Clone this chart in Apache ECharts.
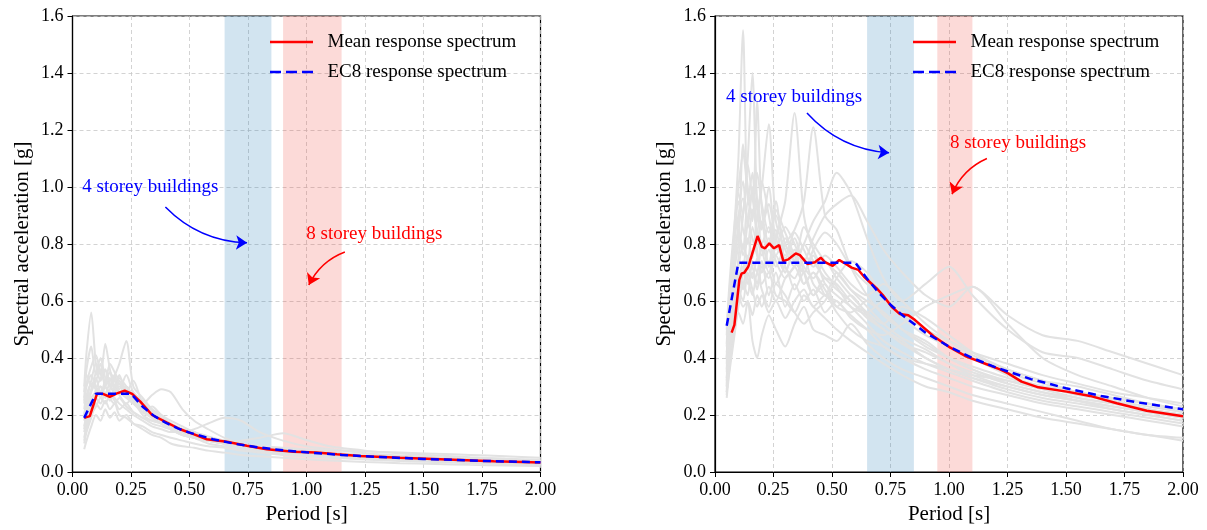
<!DOCTYPE html>
<html>
<head>
<meta charset="utf-8">
<script src="https://cdn.jsdelivr.net/npm/echarts@6/dist/echarts.min.js"></script>
<style>
  html, body { margin: 0; padding: 0; background: #fff; }
  #spectra { width: 1207px; height: 530px; }
</style>
</head>
<body>
<div id="spectra"></div>
<script type="text/javascript">
// periods [s] at which the individual record spectra are sampled
const periodsGray = [0.05, 0.06, 0.08, 0.1, 0.12, 0.14, 0.16, 0.18, 0.2, 0.23, 0.26, 0.3, 0.34, 0.38, 0.42, 0.47, 0.52, 0.58, 0.65, 0.72, 0.8, 0.9, 1.0, 1.1, 1.25, 1.4, 1.55, 1.7, 1.85, 2.0]

// left panel: record spectra [g]
const grayLeft = [
  [0.30, 0.42, 0.56, 0.38, 0.32, 0.36, 0.30, 0.34, 0.28, 0.30, 0.26, 0.22, 0.20, 0.18, 0.16, 0.14, 0.13, 0.11, 0.10, 0.09, 0.08, 0.07, 0.065, 0.06, 0.052, 0.046, 0.042, 0.038, 0.035, 0.032],
  [0.20, 0.25, 0.32, 0.38, 0.34, 0.45, 0.36, 0.30, 0.34, 0.28, 0.32, 0.24, 0.22, 0.19, 0.17, 0.15, 0.14, 0.12, 0.11, 0.095, 0.085, 0.075, 0.068, 0.062, 0.054, 0.048, 0.043, 0.039, 0.036, 0.033],
  [0.15, 0.20, 0.26, 0.28, 0.30, 0.27, 0.32, 0.34, 0.38, 0.46, 0.30, 0.26, 0.22, 0.20, 0.17, 0.15, 0.13, 0.12, 0.10, 0.09, 0.08, 0.072, 0.066, 0.06, 0.052, 0.046, 0.042, 0.038, 0.034, 0.031],
  [0.12, 0.16, 0.22, 0.26, 0.24, 0.28, 0.25, 0.30, 0.27, 0.24, 0.26, 0.24, 0.27, 0.29, 0.28, 0.22, 0.18, 0.15, 0.12, 0.10, 0.09, 0.08, 0.072, 0.065, 0.056, 0.05, 0.045, 0.04, 0.037, 0.034],
  [0.18, 0.22, 0.28, 0.32, 0.36, 0.30, 0.28, 0.26, 0.24, 0.22, 0.20, 0.18, 0.16, 0.15, 0.14, 0.14, 0.15, 0.17, 0.19, 0.18, 0.14, 0.11, 0.09, 0.08, 0.066, 0.058, 0.052, 0.046, 0.042, 0.038],
  [0.25, 0.30, 0.34, 0.30, 0.28, 0.32, 0.35, 0.30, 0.28, 0.26, 0.24, 0.22, 0.19, 0.17, 0.15, 0.14, 0.12, 0.11, 0.10, 0.11, 0.12, 0.136, 0.112, 0.09, 0.075, 0.065, 0.058, 0.052, 0.047, 0.043],
  [0.08, 0.11, 0.16, 0.20, 0.18, 0.22, 0.19, 0.21, 0.18, 0.20, 0.17, 0.15, 0.13, 0.12, 0.10, 0.09, 0.085, 0.075, 0.068, 0.06, 0.055, 0.05, 0.045, 0.04, 0.035, 0.031, 0.028, 0.025, 0.023, 0.021],
  [0.28, 0.34, 0.30, 0.35, 0.40, 0.33, 0.30, 0.28, 0.30, 0.27, 0.25, 0.20, 0.18, 0.17, 0.15, 0.13, 0.12, 0.11, 0.10, 0.09, 0.08, 0.07, 0.063, 0.058, 0.05, 0.045, 0.04, 0.037, 0.034, 0.031],
  [0.16, 0.20, 0.24, 0.27, 0.30, 0.26, 0.29, 0.33, 0.31, 0.28, 0.25, 0.21, 0.23, 0.20, 0.18, 0.16, 0.14, 0.12, 0.11, 0.10, 0.09, 0.08, 0.074, 0.068, 0.06, 0.054, 0.049, 0.045, 0.041, 0.038],
  [0.22, 0.27, 0.31, 0.29, 0.26, 0.30, 0.26, 0.24, 0.26, 0.23, 0.21, 0.19, 0.17, 0.16, 0.15, 0.13, 0.12, 0.11, 0.10, 0.095, 0.09, 0.085, 0.08, 0.078, 0.072, 0.068, 0.064, 0.06, 0.055, 0.05],
  [0.10, 0.14, 0.19, 0.24, 0.22, 0.25, 0.22, 0.24, 0.20, 0.19, 0.17, 0.16, 0.14, 0.13, 0.12, 0.11, 0.10, 0.09, 0.085, 0.075, 0.068, 0.06, 0.054, 0.05, 0.044, 0.039, 0.035, 0.031, 0.028, 0.025],
  [0.26, 0.36, 0.44, 0.34, 0.38, 0.30, 0.33, 0.29, 0.31, 0.27, 0.24, 0.21, 0.19, 0.17, 0.15, 0.14, 0.12, 0.11, 0.10, 0.09, 0.08, 0.072, 0.065, 0.06, 0.053, 0.047, 0.043, 0.039, 0.035, 0.032],
  [0.14, 0.18, 0.23, 0.29, 0.33, 0.36, 0.31, 0.28, 0.33, 0.30, 0.27, 0.23, 0.20, 0.18, 0.16, 0.15, 0.14, 0.125, 0.11, 0.10, 0.09, 0.08, 0.072, 0.066, 0.058, 0.052, 0.047, 0.043, 0.04, 0.037],
  [0.20, 0.24, 0.29, 0.33, 0.28, 0.31, 0.35, 0.32, 0.29, 0.34, 0.28, 0.25, 0.21, 0.18, 0.16, 0.14, 0.125, 0.11, 0.10, 0.09, 0.082, 0.074, 0.067, 0.061, 0.054, 0.048, 0.044, 0.04, 0.036, 0.033],
  [0.11, 0.15, 0.20, 0.23, 0.26, 0.24, 0.27, 0.25, 0.22, 0.24, 0.21, 0.19, 0.18, 0.17, 0.15, 0.13, 0.12, 0.10, 0.09, 0.08, 0.072, 0.064, 0.058, 0.053, 0.046, 0.041, 0.037, 0.034, 0.031, 0.028],
  [0.24, 0.31, 0.37, 0.41, 0.35, 0.32, 0.38, 0.35, 0.32, 0.29, 0.27, 0.23, 0.21, 0.19, 0.17, 0.15, 0.13, 0.12, 0.11, 0.10, 0.088, 0.078, 0.07, 0.064, 0.056, 0.05, 0.045, 0.041, 0.038, 0.035]
]

// right panel: record spectra [g]
const grayRight = [
  [0.36, 0.55, 0.82, 1.10, 1.55, 0.95, 1.05, 0.80, 0.88, 0.72, 0.85, 0.70, 0.78, 0.66, 0.70, 0.62, 0.60, 0.55, 0.50, 0.44, 0.40, 0.36, 0.33, 0.30, 0.27, 0.24, 0.22, 0.20, 0.18, 0.16],
  [0.30, 0.42, 0.60, 0.75, 0.90, 1.10, 1.40, 0.95, 0.85, 1.00, 0.80, 0.75, 0.82, 0.70, 0.62, 0.66, 0.58, 0.62, 0.55, 0.50, 0.46, 0.40, 0.36, 0.33, 0.30, 0.27, 0.25, 0.23, 0.21, 0.19],
  [0.40, 0.58, 0.72, 0.85, 0.78, 0.95, 0.90, 1.30, 0.92, 0.80, 0.95, 0.72, 0.68, 0.75, 0.66, 0.62, 0.70, 0.64, 0.58, 0.52, 0.47, 0.43, 0.38, 0.35, 0.31, 0.28, 0.26, 0.24, 0.22, 0.20],
  [0.28, 0.35, 0.50, 0.62, 0.70, 0.82, 0.75, 0.90, 1.00, 1.22, 0.88, 0.78, 0.72, 0.80, 0.74, 0.68, 0.64, 0.60, 0.54, 0.50, 0.45, 0.40, 0.36, 0.33, 0.29, 0.26, 0.24, 0.22, 0.20, 0.18],
  [0.45, 0.60, 0.78, 0.95, 0.85, 0.80, 0.92, 0.85, 0.78, 0.70, 0.82, 0.95, 1.26, 0.90, 0.78, 0.70, 0.65, 0.58, 0.55, 0.50, 0.45, 0.42, 0.38, 0.34, 0.30, 0.27, 0.25, 0.23, 0.21, 0.19],
  [0.32, 0.48, 0.62, 0.70, 0.66, 0.72, 0.68, 0.75, 0.70, 0.78, 0.72, 0.80, 0.85, 0.95, 1.21, 0.90, 0.85, 0.72, 0.62, 0.55, 0.50, 0.46, 0.40, 0.36, 0.32, 0.29, 0.26, 0.24, 0.22, 0.20],
  [0.27, 0.40, 0.55, 0.62, 0.58, 0.60, 0.55, 0.62, 0.58, 0.65, 0.60, 0.68, 0.72, 0.80, 0.88, 0.95, 1.05, 0.98, 0.82, 0.68, 0.60, 0.66, 0.72, 0.62, 0.50, 0.42, 0.40, 0.36, 0.32, 0.29],
  [0.38, 0.52, 0.60, 0.68, 0.72, 0.66, 0.70, 0.64, 0.72, 0.68, 0.76, 0.70, 0.78, 0.74, 0.82, 0.90, 0.94, 0.97, 0.88, 0.78, 0.70, 0.62, 0.58, 0.65, 0.55, 0.48, 0.46, 0.42, 0.38, 0.34],
  [0.29, 0.36, 0.48, 0.56, 0.52, 0.60, 0.46, 0.40, 0.48, 0.55, 0.50, 0.44, 0.52, 0.58, 0.50, 0.48, 0.46, 0.52, 0.45, 0.40, 0.36, 0.33, 0.30, 0.27, 0.24, 0.21, 0.18, 0.15, 0.13, 0.11],
  [0.50, 0.62, 0.80, 0.90, 0.96, 0.88, 0.82, 0.76, 0.70, 0.74, 0.66, 0.72, 0.64, 0.70, 0.62, 0.68, 0.66, 0.60, 0.56, 0.60, 0.54, 0.48, 0.44, 0.40, 0.34, 0.30, 0.28, 0.25, 0.22, 0.20],
  [0.33, 0.44, 0.58, 0.70, 0.64, 0.76, 0.72, 0.66, 0.74, 0.62, 0.70, 0.58, 0.66, 0.60, 0.64, 0.56, 0.60, 0.54, 0.50, 0.48, 0.52, 0.58, 0.62, 0.65, 0.52, 0.40, 0.34, 0.30, 0.26, 0.23],
  [0.42, 0.50, 0.64, 0.72, 0.80, 0.74, 0.86, 0.78, 0.66, 0.70, 0.62, 0.60, 0.56, 0.62, 0.58, 0.54, 0.50, 0.46, 0.42, 0.38, 0.34, 0.30, 0.28, 0.25, 0.22, 0.19, 0.17, 0.15, 0.13, 0.12],
  [0.31, 0.46, 0.66, 0.88, 1.02, 0.86, 0.98, 0.92, 0.80, 0.86, 0.76, 0.82, 0.74, 0.70, 0.76, 0.66, 0.62, 0.58, 0.52, 0.46, 0.42, 0.38, 0.35, 0.32, 0.28, 0.25, 0.23, 0.21, 0.19, 0.17],
  [0.35, 0.50, 0.70, 0.80, 1.15, 1.00, 0.88, 1.05, 0.94, 0.84, 0.90, 0.80, 0.74, 0.86, 0.80, 0.74, 0.70, 0.64, 0.60, 0.56, 0.50, 0.45, 0.40, 0.37, 0.33, 0.30, 0.27, 0.25, 0.23, 0.21],
  [0.26, 0.34, 0.46, 0.58, 0.66, 0.62, 0.74, 0.70, 0.80, 0.72, 0.92, 0.84, 0.76, 0.70, 0.78, 0.84, 0.80, 0.72, 0.66, 0.62, 0.56, 0.50, 0.46, 0.42, 0.38, 0.34, 0.31, 0.28, 0.26, 0.24],
  [0.44, 0.56, 0.76, 0.98, 0.90, 1.08, 0.96, 0.88, 1.02, 0.90, 0.78, 0.86, 0.80, 0.72, 0.68, 0.74, 0.68, 0.62, 0.56, 0.52, 0.58, 0.54, 0.48, 0.42, 0.36, 0.32, 0.28, 0.26, 0.24, 0.22],
  [0.30, 0.40, 0.52, 0.64, 0.60, 0.70, 0.64, 0.58, 0.62, 0.56, 0.60, 0.54, 0.60, 0.64, 0.58, 0.62, 0.56, 0.50, 0.46, 0.44, 0.40, 0.38, 0.36, 0.34, 0.32, 0.30, 0.28, 0.26, 0.24, 0.22],
  [0.48, 0.64, 0.84, 1.00, 1.12, 0.98, 0.90, 0.96, 0.86, 0.94, 0.82, 0.76, 0.84, 0.78, 0.72, 0.76, 0.72, 0.66, 0.62, 0.66, 0.60, 0.52, 0.46, 0.41, 0.36, 0.32, 0.30, 0.27, 0.24, 0.21],
  [0.28, 0.38, 0.54, 0.66, 0.74, 0.68, 0.62, 0.70, 0.64, 0.58, 0.66, 0.62, 0.56, 0.52, 0.56, 0.60, 0.68, 0.74, 0.70, 0.62, 0.56, 0.50, 0.44, 0.40, 0.35, 0.31, 0.28, 0.25, 0.22, 0.20],
  [0.40, 0.52, 0.70, 0.84, 0.76, 0.88, 1.00, 0.84, 0.76, 0.82, 0.74, 0.68, 0.72, 0.66, 0.70, 0.64, 0.58, 0.56, 0.60, 0.56, 0.50, 0.44, 0.40, 0.36, 0.31, 0.28, 0.25, 0.22, 0.20, 0.18]
]

// mean and EC8 spectra, left panel
const meanLeftT = [0.05, 0.074, 0.105, 0.13, 0.159, 0.19, 0.223, 0.255, 0.29, 0.34, 0.404, 0.46, 0.517, 0.574, 0.66, 0.745, 0.83, 0.944, 1.043, 1.13, 1.228, 1.4, 1.6, 1.8, 2.0]
const meanLeftV = [0.19, 0.196, 0.275, 0.274, 0.264, 0.276, 0.285, 0.274, 0.247, 0.2, 0.173, 0.15, 0.133, 0.115, 0.106, 0.092, 0.08, 0.071, 0.068, 0.062, 0.056, 0.05, 0.044, 0.038, 0.033]
const ec8LeftT = [0.05, 0.1, 0.25, 0.3, 0.35, 0.4, 0.45, 0.5, 0.6, 0.7, 0.8, 0.9, 1.0, 1.15, 1.3, 1.5, 1.75, 2.0]
const ec8LeftV = [0.19, 0.275, 0.275, 0.229, 0.196, 0.172, 0.153, 0.138, 0.115, 0.098, 0.086, 0.076, 0.069, 0.06, 0.053, 0.046, 0.039, 0.034]

// mean and EC8 spectra, right panel
const meanRightT = [0.071, 0.083, 0.104, 0.114, 0.125, 0.142, 0.164, 0.182, 0.2, 0.214, 0.232, 0.252, 0.274, 0.292, 0.313, 0.345, 0.363, 0.395, 0.427, 0.452, 0.47, 0.503, 0.531, 0.551, 0.584, 0.613, 0.637, 0.691, 0.717, 0.755, 0.79, 0.826, 0.855, 0.933, 1.004, 1.075, 1.161, 1.218, 1.253, 1.31, 1.382, 1.503, 1.603, 1.717, 1.845, 2.0]
const meanRightV = [0.489, 0.516, 0.674, 0.697, 0.699, 0.72, 0.779, 0.828, 0.79, 0.785, 0.802, 0.785, 0.796, 0.74, 0.746, 0.767, 0.761, 0.73, 0.736, 0.752, 0.736, 0.723, 0.744, 0.734, 0.717, 0.709, 0.685, 0.644, 0.621, 0.58, 0.554, 0.55, 0.533, 0.477, 0.437, 0.405, 0.378, 0.36, 0.346, 0.317, 0.297, 0.282, 0.267, 0.241, 0.215, 0.196]
const ec8RightT = [0.05, 0.1, 0.6, 0.65, 0.7, 0.75, 0.8, 0.9, 1.0, 1.1, 1.2, 1.35, 1.5, 1.65, 1.8, 2.0]
const ec8RightV = [0.513, 0.734, 0.734, 0.678, 0.629, 0.587, 0.551, 0.489, 0.44, 0.4, 0.367, 0.326, 0.294, 0.267, 0.245, 0.22]

// period ranges of the building groups [s]
const bandsLeft = [[0.65, 0.85], [0.90, 1.15]]
const bandsRight = [[0.65, 0.85], [0.95, 1.10]]

const seriesNames = ['Mean response spectrum', 'EC8 response spectrum']

const FONT = 'Liberation Serif'
const BLUE_BAND = 'rgba(31, 119, 180, 0.2)'
const RED_BAND = 'rgba(240, 70, 60, 0.2)'

// legend icons: a solid stroke and a dashed one
const ICON_SOLID = 'path://M0,0H43V2.5H0Z'
const ICON_DASHED = 'path://M0,0H11V2.5H0Z M16,0H27V2.5H16Z M32,0H43V2.5H32Z'

// annotation placement, in data coordinates
const notesLeft = [
  { text: '4 storey buildings', color: '#0000ff', at: [0.333, 1.0], from: [0.397, 0.93], to: [0.746, 0.804] },
  { text: '8 storey buildings', color: '#ff0000', at: [1.29, 0.835], from: [1.164, 0.772], to: [1.01, 0.656] }
]
const notesRight = [
  { text: '4 storey buildings', color: '#0000ff', at: [0.338, 1.316], from: [0.393, 1.26], to: [0.744, 1.12] },
  { text: '8 storey buildings', color: '#ff0000', at: [1.295, 1.154], from: [1.162, 1.10], to: [1.013, 0.975] }
]

const zip = (xs, ys) => xs.map((x, i) => [x, ys[i]])

function panelSeries (idx, gray, meanT, meanV, ecT, ecV, bands, notes) {
  const out = gray.map(rec => ({
    type: 'line',
    xAxisIndex: idx,
    yAxisIndex: idx,
    data: zip(periodsGray, rec),
    symbol: 'none',
    smooth: 0.25,
    silent: true,
    z: 2,
    lineStyle: { color: '#e2e2e2', width: 2 }
  }))
  out.push({
    type: 'line',
    xAxisIndex: idx,
    yAxisIndex: idx,
    data: [],
    symbol: 'none',
    silent: true,
    z: 3,
    markArea: {
      silent: true,
      data: [
        [{ xAxis: bands[0][0], itemStyle: { color: BLUE_BAND } }, { xAxis: bands[0][1] }],
        [{ xAxis: bands[1][0], itemStyle: { color: RED_BAND } }, { xAxis: bands[1][1] }]
      ]
    }
  })
  out.push({
    name: seriesNames[0],
    type: 'line',
    xAxisIndex: idx,
    yAxisIndex: idx,
    data: zip(meanT, meanV),
    symbol: 'none',
    z: 4,
    lineStyle: { color: '#ff0000', width: 2.5 },
    itemStyle: { color: '#ff0000' }
  })
  out.push({
    name: seriesNames[1],
    type: 'line',
    xAxisIndex: idx,
    yAxisIndex: idx,
    data: zip(ecT, ecV),
    symbol: 'none',
    z: 5,
    lineStyle: { color: '#0000ff', width: 2.5, type: [8, 5] },
    itemStyle: { color: '#0000ff' }
  })
  // text labels
  out.push({
    type: 'line',
    xAxisIndex: idx,
    yAxisIndex: idx,
    data: [],
    symbol: 'none',
    z: 6,
    markPoint: {
      silent: true,
      symbol: 'circle',
      symbolSize: 1,
      itemStyle: { color: 'rgba(0,0,0,0)' },
      data: notes.map(n => ({
        coord: n.at,
        name: n.text,
        label: { show: true, position: 'inside', formatter: '{b}', color: n.color, fontFamily: FONT, fontSize: 19 }
      }))
    }
  })
  // curved arrows
  out.push({
    type: 'lines',
    coordinateSystem: 'cartesian2d',
    xAxisIndex: idx,
    yAxisIndex: idx,
    silent: true,
    z: 6,
    symbol: ['none', 'arrow'],
    symbolSize: 11,
    lineStyle: { width: 1.5, type: 'solid', curveness: -0.2, opacity: 1 },
    data: notes.map(n => ({
      coords: [n.from, n.to],
      lineStyle: { color: n.color }
    }))
  })
  return out
}

const xAxisBase = {
  type: 'value',
  min: 0,
  max: 2,
  interval: 0.25,
  name: 'Period [s]',
  nameLocation: 'middle',
  nameGap: 29,
  nameTextStyle: { fontFamily: FONT, fontSize: 21, color: '#000' },
  axisLine: { onZero: false, lineStyle: { color: '#000', width: 1.2 } },
  axisTick: { show: true, inside: false, length: 5, lineStyle: { color: '#000' } },
  axisLabel: { fontFamily: FONT, fontSize: 18, color: '#000', margin: 9, formatter: v => v.toFixed(2) },
  splitLine: { show: true, lineStyle: { color: '#c8c8c8', type: [4, 3], width: 0.8 } }
}
const yAxisBase = {
  type: 'value',
  min: 0,
  max: 1.6,
  interval: 0.2,
  name: 'Spectral acceleration [g]',
  nameLocation: 'middle',
  nameGap: 40,
  nameTextStyle: { fontFamily: FONT, fontSize: 21, color: '#000' },
  axisLine: { show: true, onZero: false, lineStyle: { color: '#000', width: 1.2 } },
  axisTick: { show: true, inside: false, length: 5, lineStyle: { color: '#000' } },
  axisLabel: { fontFamily: FONT, fontSize: 18, color: '#000', margin: 9, formatter: v => v.toFixed(1) },
  splitLine: { show: true, lineStyle: { color: '#c8c8c8', type: [4, 3], width: 0.8 } }
}

const legendBase = {
  orient: 'vertical',
  top: 27,
  itemWidth: 43,
  itemHeight: 14,
  itemGap: 10,
  symbolKeepAspect: true,
  data: [
    { name: seriesNames[0], icon: ICON_SOLID },
    { name: seriesNames[1], icon: ICON_DASHED }
  ],
  selectedMode: false,
  formatter: name => '  ' + name,
  textStyle: { fontFamily: FONT, fontSize: 19, color: '#000', lineHeight: 20 }
}

const chart = echarts.init(document.getElementById('spectra'))
chart.setOption({
  animation: false,
  backgroundColor: '#fff',
  grid: [
    { left: 72.5, top: 16, width: 468, height: 456, show: true, borderColor: '#000', borderWidth: 1.2, backgroundColor: 'transparent' },
    { left: 715, top: 16, width: 468, height: 456, show: true, borderColor: '#000', borderWidth: 1.2, backgroundColor: 'transparent' }
  ],
  xAxis: [
    Object.assign({}, xAxisBase, { gridIndex: 0 }),
    Object.assign({}, xAxisBase, { gridIndex: 1 })
  ],
  yAxis: [
    Object.assign({}, yAxisBase, { gridIndex: 0 }),
    Object.assign({}, yAxisBase, { gridIndex: 1 })
  ],
  legend: [
    Object.assign({}, legendBase, { left: 265 }),
    Object.assign({}, legendBase, { left: 908 })
  ],
  series: [
    ...panelSeries(0, grayLeft, meanLeftT, meanLeftV, ec8LeftT, ec8LeftV, bandsLeft, notesLeft),
    ...panelSeries(1, grayRight, meanRightT, meanRightV, ec8RightT, ec8RightV, bandsRight, notesRight)
  ]
})
</script>
</body>
</html>
